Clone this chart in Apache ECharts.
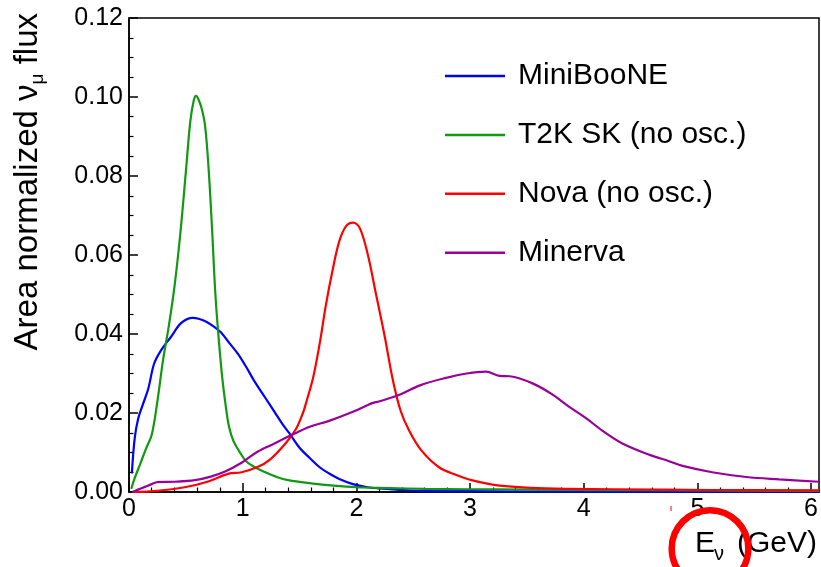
<!DOCTYPE html>
<html><head><meta charset="utf-8">
<script src="https://cdn.jsdelivr.net/npm/echarts@6/dist/echarts.min.js"></script>
<style>html,body{margin:0;padding:0;background:#fff}#c{width:821px;height:567px}</style>
</head><body><div id="c"></div>
<script>
// ---- data ----
const seriesNames = ['MiniBooNE', 'T2K SK (no osc.)', 'Nova (no osc.)', 'Minerva'];

const miniE    = [0.025,0.05,0.08,0.12,0.17,0.22,0.28,0.37,0.46,0.56,0.62,0.68,0.75,0.81,0.88,0.96,1.03,1.1,1.2,1.28,1.35,1.41,1.5,1.59,1.68,1.76,1.85,1.97,2.1,2.2,2.35,2.55,3.0,4.0,5.0,6.07];
const miniFlux = [0.0047,0.0136,0.0185,0.022,0.0262,0.0324,0.0358,0.0393,0.0428,0.0441,0.0438,0.0431,0.0418,0.0404,0.0378,0.0349,0.0317,0.0282,0.0238,0.0203,0.0172,0.0149,0.0112,0.0086,0.0062,0.0047,0.0033,0.002,0.0012,0.0009,0.0006,0.0003,0.0002,0.0001,0.0001,0.0001];

const t2kE    = [0.02,0.05,0.1,0.15,0.2,0.25,0.3,0.35,0.4,0.45,0.5,0.54,0.57,0.59,0.61,0.64,0.67,0.70,0.73,0.76,0.79,0.82,0.85,0.88,0.92,0.97,1.03,1.1,1.2,1.3,1.4,1.6,1.8,2.0,2.3,2.6,3.0,3.5,4.0,5.0,6.07];
const t2kFlux = [0.0008,0.0035,0.0072,0.011,0.0145,0.023,0.0335,0.042,0.052,0.065,0.081,0.094,0.0992,0.1003,0.0995,0.097,0.0925,0.082,0.067,0.050,0.0385,0.029,0.022,0.0165,0.0128,0.0103,0.0078,0.0064,0.005,0.0038,0.003,0.0022,0.0016,0.0012,0.001,0.0008,0.0007,0.0006,0.0005,0.0004,0.0003];

const novaE    = [0.03,0.25,0.49,0.69,0.87,0.99,1.13,1.24,1.38,1.47,1.53,1.56,1.62,1.68,1.73,1.79,1.85,1.91,1.97,2.03,2.1,2.17,2.25,2.32,2.39,2.46,2.57,2.73,2.88,3.0,3.26,3.67,4.25,5.13,6.07];
const novaFlux = [0.0,0.0003,0.0012,0.0026,0.0046,0.005,0.0063,0.0082,0.0124,0.016,0.020,0.0228,0.029,0.038,0.047,0.056,0.0635,0.0673,0.0682,0.0668,0.0602,0.0505,0.0393,0.0285,0.0205,0.0158,0.0106,0.0062,0.0043,0.0031,0.0016,0.0009,0.0007,0.0005,0.0004];

const minervaE    = [0.03,0.08,0.14,0.2,0.25,0.4,0.58,0.72,0.84,0.99,1.13,1.28,1.43,1.59,1.76,1.97,2.14,2.2,2.38,2.56,2.79,2.97,3.14,3.26,3.35,3.55,3.73,3.87,4.02,4.17,4.34,4.58,4.75,4.87,5.13,5.43,5.72,6.07];
const minervaFlux = [0.0,0.0006,0.0013,0.002,0.0025,0.0026,0.003,0.0039,0.0051,0.0074,0.0102,0.0123,0.0144,0.0165,0.018,0.0203,0.0225,0.0229,0.0246,0.027,0.0289,0.03,0.0305,0.0294,0.0293,0.0275,0.0246,0.0216,0.0187,0.0154,0.0123,0.0094,0.0078,0.0066,0.005,0.0038,0.0032,0.0026];

const xMajorTicks = [0,1,2,3,4,5,6];
const xMinorTicks = [0.2,0.4,0.6,0.8,1.2,1.4,1.6,1.8,2.2,2.4,2.6,2.8,3.2,3.4,3.6,3.8,4.2,4.4,4.6,4.8,5.2,5.4,5.6,5.8];
const yTickLabels = ['0.00','0.02','0.04','0.06','0.08','0.10','0.12'];

// ---- chart ----
const FONT = 'Liberation Sans, Arial, Helvetica, sans-serif';
const colors = ['#0000ff', '#119911', '#ff0000', '#990099'];
const zip = (xs, ys) => xs.map((x, i) => [x, ys[i]]);
const allData = [zip(miniE, miniFlux), zip(t2kE, t2kFlux), zip(novaE, novaFlux), zip(minervaE, minervaFlux)];

const chart = echarts.init(document.getElementById('c'), null, {renderer: 'canvas'});
chart.setOption({
  animation: false,
  backgroundColor: '#fff',
  grid: {left: 129, right: 1, top: 18, bottom: 75, show: true, borderColor: '#000', borderWidth: 1.5, containLabel: false},
  legend: {
    orient: 'vertical', left: 445, top: 61, padding: 0, itemWidth: 60, itemHeight: 2.5, itemGap: 28.9, icon: 'rect',
    data: seriesNames,
    textStyle: {fontFamily: FONT, fontSize: 30, color: '#000', lineHeight: 30, padding: [0, 0, 0, 8]}
  },
  xAxis: [{
    type: 'value', min: 0, max: 6.07,
    axisLine: {show: true, lineStyle: {color: '#000', width: 1.5}},
    axisTick: {show: true, inside: true, length: 9, customValues: xMajorTicks, lineStyle: {color: '#000', width: 1.5}},
    axisLabel: {customValues: xMajorTicks, fontFamily: FONT, fontSize: 25, color: '#000', margin: 5},
    splitLine: {show: false}
  }, {
    type: 'value', min: 0, max: 6.07, position: 'bottom',
    axisLine: {show: false},
    axisTick: {show: true, inside: true, length: 4.5, customValues: xMinorTicks, lineStyle: {color: '#000', width: 1.2}},
    axisLabel: {show: false},
    splitLine: {show: false}
  }],
  yAxis: {
    type: 'value', min: 0, max: 0.12, interval: 0.02,
    axisLine: {show: true, lineStyle: {color: '#000', width: 1.5}},
    axisTick: {show: true, inside: true, length: 9, lineStyle: {color: '#000', width: 1.5}},
    minorTick: {show: true, splitNumber: 4, length: 4.5, lineStyle: {color: '#000', width: 1.2}},
    axisLabel: {fontFamily: FONT, fontSize: 25, color: '#000', margin: 6,
      formatter: v => yTickLabels[Math.round(v / 0.02)]},
    splitLine: {show: false}, minorSplitLine: {show: false}
  },
  series: seriesNames.map((n, i) => ({
    name: n, type: 'line', data: allData[i], showSymbol: false, smooth: 0.35,
    color: colors[i], lineStyle: {color: colors[i], width: 2.2}, z: 3
  })),
  graphic: [
    {type: 'text', x: 28, y: 13, rotation: Math.PI / 2,
      style: {text: '{a|Area normalized ν}{s|μ}{a| flux}', align: 'right', verticalAlign: 'middle', fill: '#000',
        rich: {a: {fontFamily: FONT, fontSize: 33, lineHeight: 38, fill: '#000'},
               s: {fontFamily: FONT, fontSize: 19, lineHeight: 8, verticalAlign: 'bottom', fill: '#000'}}}},
    {type: 'text', x: 695, y: 544, style: {text: 'E', font: '30px ' + FONT, fill: '#000', align: 'left', verticalAlign: 'middle'}},
    {type: 'text', x: 714, y: 554, style: {text: 'ν', font: '20px ' + FONT, fill: '#000', align: 'left', verticalAlign: 'middle'}},
    {type: 'text', x: 817, y: 544, style: {text: '(GeV)', font: '30px ' + FONT, fill: '#000', align: 'right', verticalAlign: 'middle'}},
    {type: 'circle', shape: {cx: 710, cy: 548.5, r: 38.3}, style: {fill: 'none', stroke: '#ff0000', lineWidth: 6.5}, z: 10},
    {type: 'line', shape: {x1: 671, y1: 506, x2: 671, y2: 511}, style: {stroke: '#ff0000', lineWidth: 1}, z: 10}
  ]
});
</script></body></html>
